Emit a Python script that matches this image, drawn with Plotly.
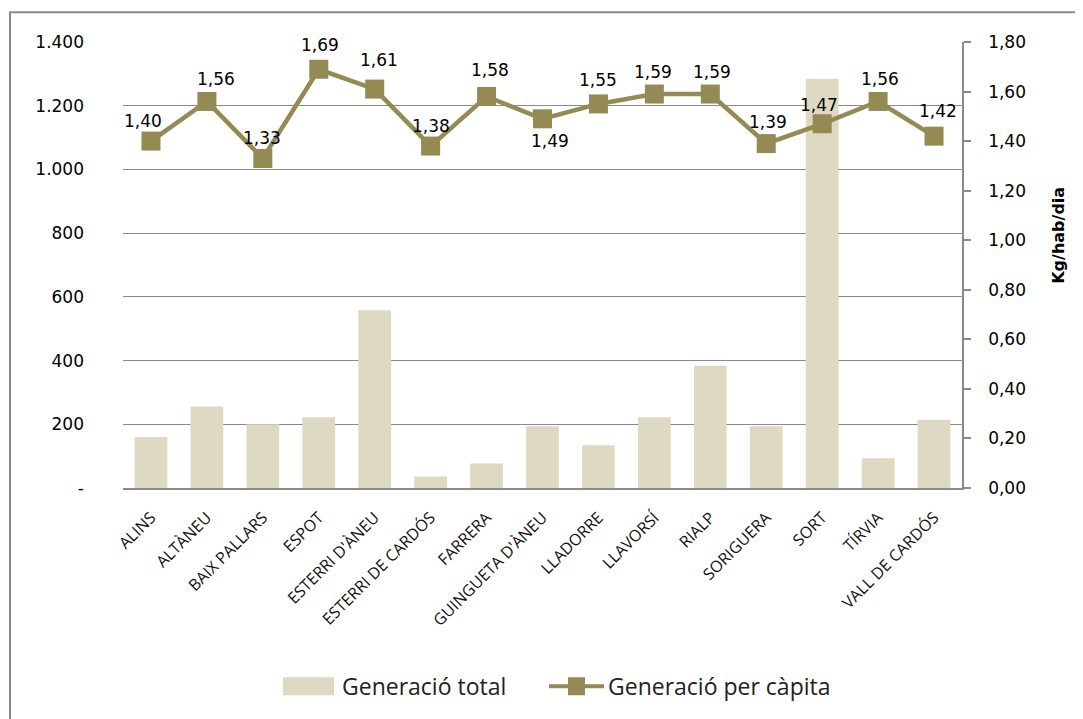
import plotly.graph_objects as go

categories = ["ALINS", "ALTÀNEU", "BAIX PALLARS", "ESPOT", "ESTERRI D'ÀNEU",
              "ESTERRI DE CARDÓS", "FARRERA", "GUINGUETA D'ÀNEU", "LLADORRE",
              "LLAVORSÍ", "RIALP", "SORIGUERA", "SORT", "TÍRVIA", "VALL DE CARDÓS"]
generacio_total = [160, 256, 200, 222, 558, 36, 77, 194, 134, 222, 384, 194, 1285, 93, 214]
per_capita = [1.40, 1.56, 1.33, 1.69, 1.61, 1.38, 1.58, 1.49, 1.55, 1.59, 1.59, 1.39, 1.47, 1.56, 1.42]
left_ticks = [0, 200, 400, 600, 800, 1000, 1200, 1400]
left_ticktext = ["-", "200", "400", "600", "800", "1.000", "1.200", "1.400"]
right_ticks = [0, 0.2, 0.4, 0.6, 0.8, 1.0, 1.2, 1.4, 1.6, 1.8]
right_ticktext = ["0,00", "0,20", "0,40", "0,60", "0,80", "1,00", "1,20", "1,40", "1,60", "1,80"]
legend_names = ["Generació total", "Generació per càpita"]
axis_title = "Kg/hab/dia"

# label offsets (pixels, screen: +x right, +y down) for the data labels
label_dx = [-8, 9, -1, 1, 4, 0, 3, 7, 0, -1, 2, 2, -3, 2, 4]
label_dy = [-20, -22, -20, -24, -29, -20, -27, 22, -24, -22, -22, -22, -19, -22, -25]

BAR = "#DDD9C3"
LINE = "#948A54"
GRID = "#8A8A8A"
FONT = "Open Sans"
NUMFONT = "DejaVu Sans"

W, H = 1083, 719
OFF = 8  # page body margin
SL, SR, ST, SB = 123, 962, 42, 488.5
pw, ph = SR - SL, SB - ST


def px(x):
    return (x - SL) / pw


def py(y):
    return (SB - y) / ph


fig = go.Figure()
fig.add_trace(go.Bar(x=categories, y=generacio_total, name=legend_names[0],
                     marker=dict(color=BAR, line=dict(width=0)), yaxis="y"))
fig.add_trace(go.Scatter(x=categories, y=per_capita, name=legend_names[1],
                         mode="lines+markers", yaxis="y2",
                         line=dict(color=LINE, width=4.5),
                         marker=dict(symbol="square", size=19, color=LINE)))

annotations = []
for c, v, dx, dy in zip(categories, per_capita, label_dx, label_dy):
    annotations.append(dict(x=c, y=v, xref="x", yref="y2", text=f"{v:.2f}".replace(".", ","),
                            showarrow=False, xanchor="center", yanchor="middle",
                            xshift=dx, yshift=-dy,
                            font=dict(family=NUMFONT, size=17, color="#000000")))

shapes = [
    dict(type="rect", xref="paper", yref="paper",
         x0=px(10), x1=px(1100), y0=py(740), y1=py(12.3),
         line=dict(color=GRID, width=2), fillcolor="rgba(0,0,0,0)", layer="below"),
    dict(type="rect", xref="paper", yref="paper",
         x0=px(283), x1=px(334), y0=py(696), y1=py(678),
         line=dict(width=0), fillcolor=BAR),
    dict(type="line", xref="paper", yref="paper",
         x0=px(549), x1=px(604), y0=py(687), y1=py(687),
         line=dict(color=LINE, width=4)),
    dict(type="rect", xref="paper", yref="paper",
         x0=px(568), x1=px(585), y0=py(696), y1=py(678),
         line=dict(width=0), fillcolor=LINE),
]
annotations += [
    dict(xref="paper", yref="paper", x=px(340), y=py(687), xanchor="left", yanchor="middle",
         text=legend_names[0], showarrow=False, font=dict(family=FONT, size=23, color="#222222")),
    dict(xref="paper", yref="paper", x=px(606), y=py(687), xanchor="left", yanchor="middle",
         text=legend_names[1], showarrow=False, font=dict(family=FONT, size=23, color="#222222")),
    dict(xref="paper", yref="paper", x=px(1059), y=py(236), xanchor="center", yanchor="middle",
         text="<b>" + axis_title + "</b>", textangle=-90, showarrow=False,
         font=dict(family=NUMFONT, size=16, color="#000000")),
]

fig.update_layout(
    width=W, height=H,
    margin=dict(l=SL - OFF, r=W - (SR - OFF), t=ST - OFF, b=H - (SB - OFF)),
    paper_bgcolor="white", plot_bgcolor="white",
    font=dict(family=FONT, color="#000000"),
    bargap=0.415,
    showlegend=False,
    xaxis=dict(range=[-0.5, len(categories) - 0.5], tickangle=-45,
               tickfont=dict(size=16, family=FONT, color="#111111"), showgrid=False,
               showline=True, linecolor=GRID, linewidth=2, ticks="", automargin=False,
               ticklabelstandoff=12),
    yaxis=dict(range=[0, 1400], tickvals=left_ticks, ticktext=left_ticktext,
               showgrid=True, gridcolor=GRID, gridwidth=1.3, zeroline=False,
               showline=False, tickfont=dict(size=17, family=NUMFONT), ticks="",
               ticklabelstandoff=38, automargin=False),
    yaxis2=dict(range=[0, 1.8], tickvals=right_ticks, ticktext=right_ticktext,
                overlaying="y", side="right", showgrid=False, zeroline=False,
                showline=True, linecolor=GRID, linewidth=1.5,
                ticks="outside", ticklen=7, tickcolor=GRID, tickwidth=1.5,
                tickfont=dict(size=17, family=NUMFONT), ticklabelstandoff=14,
                automargin=False),
    shapes=shapes,
    annotations=annotations,
)

fig.write_html("out.html")
